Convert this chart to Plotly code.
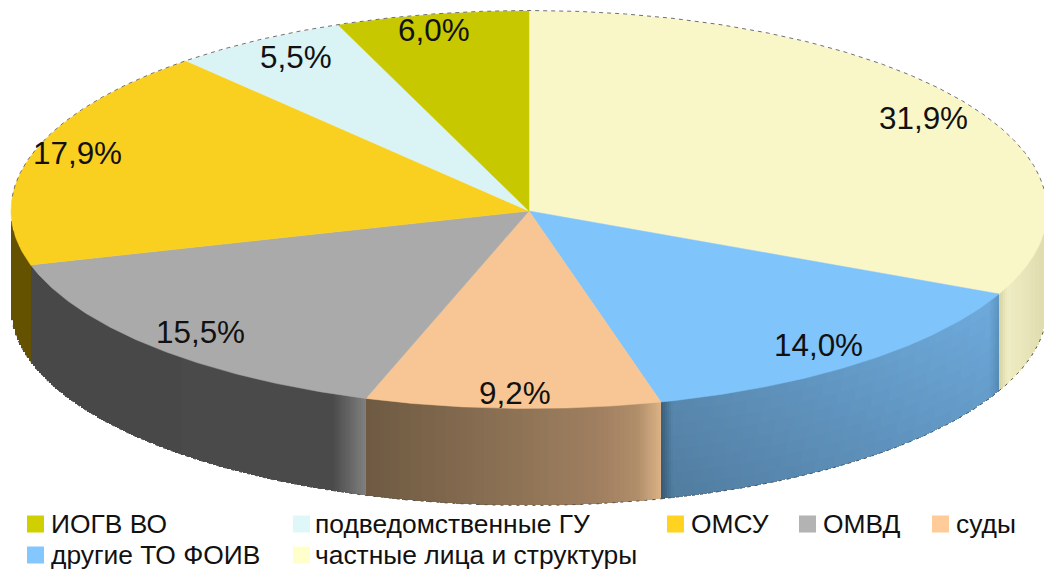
import math
import plotly.graph_objects as go

# Data
categories = ["частные лица и структуры", "другие ТО ФОИВ", "суды", "ОМВД", "ОМСУ",
              "подведомственные ГУ", "ИОГВ ВО"]
values = [31.9, 14.0, 9.2, 15.5, 17.9, 5.5, 6.0]

# Style
top_colors = ["#f9f6c8", "#7fc4fa", "#f7c694", "#aaaaaa", "#fad020", "#daf3f5", "#c8c800"]
legend_colors = {"ИОГВ ВО": "#d0cf00", "подведомственные ГУ": "#e0f7f9", "ОМСУ": "#ffd31f",
                 "ОМВД": "#b3b3b3", "суды": "#ffcb99", "другие ТО ФОИВ": "#84c7ff",
                 "частные лица и структуры": "#ffffcc"}
# wall gradient: (fraction across the visible wall in screen x, rgb)
wall_stops = [
    [(0, (212, 210, 164)), (0.18, (238, 236, 194)), (0.5, (232, 230, 186)), (1, (222, 220, 172))],
    [(0, (60, 100, 130)), (0.035, (92, 142, 182)), (0.97, (110, 170, 220)), (1, (92, 148, 194))],
    [(0, (110, 90, 66)), (0.8, (160, 128, 96)), (0.92, (176, 142, 106)), (1, (220, 178, 134))],
    [(0, (72, 72, 72)), (0.90, (74, 74, 74)), (1, (128, 128, 128))],
    [(0, (100, 82, 0)), (1, (100, 82, 0))],
    [(0, (180, 190, 190)), (1, (180, 190, 190))],
    [(0, (120, 120, 0)), (1, (120, 120, 0))],
]
wall_shade = [0.0, 0.08, 0.0, 0.0, 0.0, 0.0, 0.0]  # darker toward the bottom
label_shift = [(10, 2), (-3, 0), (0, 7), (1, 0), (-14, -8), (5, -3), (-10, -8)]

CX, CY, RX, RY_BACK, RY_FRONT, DEPTH = 529, 211, 518, 200, 197.5, 97
W, H = 1044, 571

legend_layout = [  # name, marker left x, text left x, row y
    ("ИОГВ ВО", 27, 49, 524), ("подведомственные ГУ", 293, 313, 524), ("ОМСУ", 667, 689, 524),
    ("ОМВД", 799, 821, 524), ("суды", 932, 954, 524),
    ("другие ТО ФОИВ", 27, 49, 555), ("частные лица и структуры", 293, 313, 555),
]


def px(t):
    return CX + RX * math.sin(t)


def py(t):
    c = math.cos(t)
    return CY - (RY_BACK if c > 0 else RY_FRONT) * c


def lerp(stops, u, shade):
    u = min(1, max(0, u))
    for (a, ca), (b, cb) in zip(stops, stops[1:]):
        if u <= b:
            f = (u - a) / (b - a) if b > a else 0
            c = [ca[i] + (cb[i] - ca[i]) * f for i in range(3)]
            break
    c = [v * (1 - shade) for v in c]
    return "#%02x%02x%02x" % tuple(int(round(v / 2) * 2) if v < 254 else 255 for v in c)


total = sum(values)
edges = [0]
for v in values:
    edges.append(edges[-1] + v / total * 2 * math.pi)

fig = go.Figure()
buckets = {}
STEP = 2
for i in range(len(values)):
    a = max(edges[i], math.pi / 2)
    b = min(edges[i + 1], 3 * math.pi / 2)
    if b <= a:
        continue
    xl, xr = sorted((px(a), px(b)))
    xl, xr = int(round(xl)), int(round(xr))
    rows = 8 if wall_shade[i] else 1
    for x0 in range(xl, xr, STEP):
        x1 = min(x0 + STEP, xr)
        s = ((x0 + x1) / 2 - CX) / RX
        ybase = round(CY + RY_FRONT * math.sqrt(max(0, 1 - s * s)))
        u = ((x0 + x1) / 2 - xl) / (xr - xl)
        for r in range(rows):
            y0 = ybase - 2 + round((DEPTH + 2) * r / rows)
            y1 = ybase - 2 + round((DEPTH + 2) * (r + 1) / rows)
            col = lerp(wall_stops[i], u,
                       wall_shade[i] * ((r + .5) / rows) + wall_shade[i] * (1 - u) * 0.6)
            bx, by = buckets.setdefault(col, ([], []))
            bx += [x0, x1, x1, x0, x0, None]
            by += [y0, y0, y1, y1, y0, None]

for col, (bx, by) in buckets.items():
    fig.add_trace(go.Scatter(x=bx, y=by, mode="lines", fill="toself", fillcolor=col,
                             line=dict(color=col, width=0), hoverinfo="skip", showlegend=False))

# aliased dark fringe under the wall
ts = [math.pi / 2 + k / 300 * math.pi * 0.98 for k in range(301)]
fig.add_trace(go.Scatter(x=[px(t) for t in ts], y=[py(t) + DEPTH for t in ts], mode="lines",
                         line=dict(color="#555555", width=1, dash="3px,5px"),
                         hoverinfo="skip", showlegend=False))

# top faces
for i, name in enumerate(categories):
    n = max(3, int((edges[i + 1] - edges[i]) * 120))
    ts = [edges[i] + (edges[i + 1] - edges[i]) * k / n for k in range(n + 1)]
    fig.add_trace(go.Scatter(x=[CX] + [px(t) for t in ts] + [CX],
                             y=[CY] + [py(t) for t in ts] + [CY],
                             mode="lines", fill="toself", fillcolor=top_colors[i],
                             line=dict(color=top_colors[i], width=0.5),
                             name=name, hoverinfo="skip", showlegend=False))

# aliased dark fringe on the far edge of the disc
ts = [math.radians(-86 + 172 * k / 400) for k in range(401)]
fig.add_trace(go.Scatter(x=[px(t) for t in ts], y=[py(t) - 0.5 for t in ts], mode="lines",
                         line=dict(color="#707070", width=1, dash="4px,4px"),
                         hoverinfo="skip", showlegend=False))

annotations = []
for i, v in enumerate(values):
    mid = (edges[i] + edges[i + 1]) / 2
    dx, dy = label_shift[i]
    annotations.append(dict(x=CX + RX * 0.88 * math.sin(mid) + dx, y=CY - RY_BACK * 0.88 * math.cos(mid) + dy,
                            text=f"{v:.1f}%".replace(".", ","), showarrow=False, xanchor="center",
                            yanchor="middle", font=dict(family="Liberation Sans", size=31.4, color="#111111")))

for name, mx, tx, ly in legend_layout:
    fig.add_trace(go.Scatter(x=[mx + 8.5], y=[ly], mode="markers",
                             marker=dict(symbol="square", size=17, color=legend_colors[name], line=dict(width=0)),
                             hoverinfo="skip", showlegend=False))
    annotations.append(dict(x=tx, y=ly, text=name, showarrow=False, xanchor="left", yanchor="middle",
                            font=dict(family="Liberation Sans", size=26.4, color="#111111")))

fig.update_layout(width=W, height=H, margin=dict(l=0, r=0, t=0, b=0), autosize=False,
                  paper_bgcolor="white", plot_bgcolor="white", annotations=annotations,
                  xaxis=dict(range=[0, W], visible=False, fixedrange=True),
                  yaxis=dict(range=[H, 0], visible=False, fixedrange=True))
fig.write_html("out.html", config=dict(displayModeBar=False),
               post_script="document.body.style.margin='0';document.body.style.overflow='hidden';")
